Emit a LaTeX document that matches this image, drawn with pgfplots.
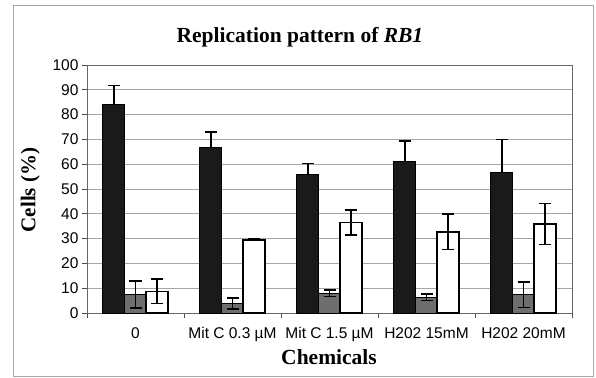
\documentclass[border=0pt]{standalone}
\usepackage{pgfplots}
\pgfplotsset{compat=1.18}
\usepackage{fontspec}
\setmainfont{Liberation Serif}
\newfontfamily\arial{Liberation Sans}
\definecolor{barblack}{HTML}{1A1A1A}
\definecolor{bargray}{HTML}{6E6E6E}
\begin{document}
\begin{tikzpicture}
\useasboundingbox (0,0) rectangle (596pt,377pt);
\draw[gray!70, line width=1pt] (13pt,1pt) rectangle (593pt,371pt);
\begin{axis}[
  at={(87pt,64pt)}, anchor=south west,
  scale only axis, width=485pt, height=248pt,
  xmin=-0.5, xmax=4.5, ymin=0, ymax=100,
  ytick={0,10,...,100},
  xtick={-0.5,0.5,1.5,2.5,3.5,4.5},
  xticklabels={},
  extra x ticks={0,1,2,3,4},
  extra x tick labels={0, Mit C 0.3 µM, Mit C 1.5 µM, H202 15mM, H202 20mM},
  extra x tick style={major tick length=0pt, xticklabel style={yshift=-14pt}},
  major tick length=5pt,
  ytick pos=left, xtick pos=bottom, tick align=outside,
  tick style={black!70, line width=0.8pt},
  ymajorgrids, grid style={gray!70, line width=0.9pt},
  axis line style={gray!80!black, line width=0.9pt},
  ticklabel style={font=\arial\fontsize{15.5}{17}\selectfont},
  xticklabel style={inner sep=0pt},
  /pgf/number format/assume math mode=true,
  ybar, bar width=0.227,
  clip=false,
]
\addplot[fill=barblack, draw=black, line width=0.8pt, bar shift=-0.224,
  error bars/.cd, y dir=plus, y explicit,
  error bar style={line width=1.6pt, black},
  error mark options={rotate=90, mark size=6pt, line width=1.6pt, black}]
  coordinates {(0,84.1) +- (0,7.6) (1,66.9) +- (0,6.1) (2,56.0) +- (0,4.3) (3,61.2) +- (0,8.1) (4,56.5) +- (0,13.5)};
\addplot[fill=bargray, draw=black, line width=0.8pt, bar shift=0,
  error bars/.cd, y dir=both, y explicit,
  error bar style={line width=1.6pt, black},
  error mark options={rotate=90, mark size=6pt, line width=1.6pt, black}]
  coordinates {(0,7.4) +- (0,5.4) (1,3.8) +- (0,2.2) (2,8.0) +- (0,1.3) (3,6.3) +- (0,1.3) (4,7.4) +- (0,5.2)};
\addplot[fill=white, draw=black, line width=1.5pt, bar shift=0.224,
  error bars/.cd, y dir=both, y explicit,
  error bar style={line width=1.6pt, black},
  error mark options={rotate=90, mark size=6pt, line width=1.6pt, black}]
  coordinates {(0,8.7) +- (0,4.9) (1,29.5) +- (0,0.3) (2,36.5) +- (0,5.0) (3,32.7) +- (0,7.1) (4,35.9) +- (0,8.3)};
\node[font=\bfseries\fontsize{21.5}{24}\selectfont] at (axis description cs:0.439,1.113) {Replication pattern of \textit{RB1}};
\node[font=\bfseries\fontsize{21}{24}\selectfont, rotate=90] at (axis description cs:-0.117,0.496) {Cells (\%)};
\node[font=\bfseries\fontsize{21.5}{24}\selectfont] at (axis description cs:0.499,-0.177) {Chemicals};
\end{axis}
\end{tikzpicture}
\end{document}
